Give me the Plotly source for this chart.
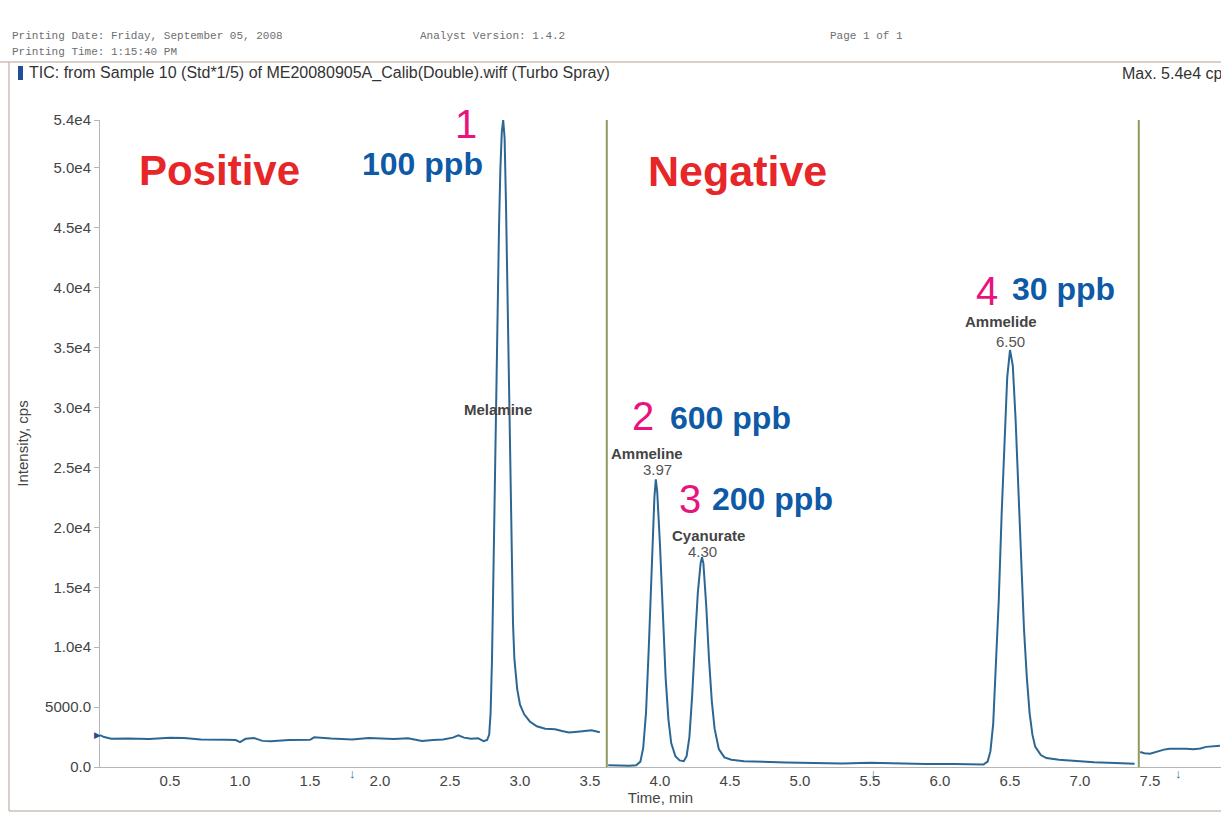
import plotly.graph_objects as go

# ---------------- data ----------------
pos1_time = [0.00, 0.03, 0.08, 0.20, 0.35, 0.50, 0.60, 0.72, 0.90, 0.97, 1.00, 1.04, 1.10, 1.16, 1.22,
             1.35, 1.50, 1.53, 1.65, 1.80, 1.92, 2.00, 2.10, 2.20, 2.30, 2.38, 2.45, 2.52, 2.56, 2.60,
             2.65, 2.70, 2.74, 2.765, 2.78, 2.79, 2.80, 2.81, 2.82, 2.83, 2.84, 2.85, 2.86, 2.87, 2.88,
             2.89, 2.90, 2.91, 2.92, 2.93, 2.94, 2.95, 2.96, 2.98, 3.00, 3.03, 3.07, 3.12, 3.18, 3.25,
             3.30, 3.35, 3.43, 3.51, 3.57]
pos1_int = [2650, 2500, 2350, 2380, 2330, 2450, 2430, 2300, 2280, 2250, 2080, 2350, 2420, 2180, 2150,
            2260, 2270, 2480, 2380, 2300, 2420, 2380, 2330, 2400, 2180, 2250, 2300, 2450, 2650, 2450,
            2350, 2400, 2150, 2250, 2700, 4500, 9000, 16000, 24000, 32000, 39000, 45000, 50000, 53000, 54000,
            52500, 47000, 40000, 32000, 24000, 17000, 12000, 9000, 6500, 5200, 4400, 3800, 3400, 3200, 3150,
            3000, 2880, 2970, 3060, 2900]

neg_time = [3.63, 3.70, 3.78, 3.83, 3.86, 3.88, 3.90, 3.92, 3.94, 3.96, 3.97, 3.98, 4.00, 4.02, 4.04,
            4.06, 4.08, 4.11, 4.14, 4.17, 4.19, 4.21, 4.23, 4.25, 4.27, 4.29, 4.30, 4.31, 4.33, 4.35,
            4.37, 4.39, 4.42, 4.46, 4.51, 4.60, 4.71, 4.90, 5.10, 5.30, 5.50, 5.70, 5.90, 6.10, 6.25,
            6.31, 6.34, 6.36, 6.38, 6.40, 6.42, 6.44, 6.46, 6.48, 6.50, 6.52, 6.54, 6.56, 6.58, 6.60,
            6.62, 6.64, 6.66, 6.68, 6.72, 6.76, 6.85, 6.96, 7.10, 7.25, 7.39]
neg_int = [150, 120, 110, 150, 450, 1600, 4500, 10000, 17000, 22500, 24000, 23000, 18500, 12500, 7500,
           4000, 2000, 900, 550, 480, 900, 2500, 6000, 10500, 14500, 17000, 17500, 17000, 13500, 9000,
           5500, 3200, 1500, 800, 600, 480, 430, 380, 330, 300, 350, 280, 260, 250, 220,
           200, 450, 1300, 3600, 8200, 14000, 21000, 27500, 32500, 34800, 33500, 29000, 23000, 17000, 11500,
           7500, 4500, 2700, 1700, 1000, 750, 600, 500, 400, 330, 280]

pos2_time = [7.43, 7.46, 7.50, 7.55, 7.60, 7.64, 7.70, 7.76, 7.81, 7.86, 7.90, 7.95, 8.00]
pos2_int = [1250, 1150, 1100, 1280, 1450, 1530, 1550, 1520, 1480, 1550, 1680, 1750, 1770]

divider_times = [3.62, 7.42]

y_tick_vals = [0, 5000, 10000, 15000, 20000, 25000, 30000, 35000, 40000, 45000, 50000, 54000]
y_tick_text = ["0.0", "5000.0", "1.0e4", "1.5e4", "2.0e4", "2.5e4", "3.0e4", "3.5e4", "4.0e4",
               "4.5e4", "5.0e4", "5.4e4"]
x_tick_vals = [0.5, 1.0, 1.5, 2.0, 2.5, 3.0, 3.5, 4.0, 4.5, 5.0, 5.5, 6.0, 6.5, 7.0, 7.5]
x_tick_text = ["0.5", "1.0", "1.5", "2.0", "2.5", "3.0", "3.5", "4.0", "4.5", "5.0", "5.5", "6.0",
               "6.5", "7.0", "7.5"]

peak_names = ["Melamine", "Ammeline", "Cyanurate", "Ammelide"]
peak_rt = ["2.88", "3.97", "4.30", "6.50"]
peak_num = ["1", "2", "3", "4"]
peak_conc = ["100 ppb", "600 ppb", "200 ppb", "30 ppb"]
mode_labels = ["Positive", "Negative"]

# ---------------- figure ----------------
W, H = 1221, 829
ML, MR, MT, MB = 100, 0, 120, 62
PW, PH = W - ML - MR, H - MT - MB


def px(xp):
    return (xp - ML) / PW


def py(yp):
    return (H - MB - yp) / PH


LINE = "#2c6794"
fig = go.Figure()
for tx, iy in [(pos1_time, pos1_int), (neg_time, neg_int), (pos2_time, pos2_int)]:
    fig.add_trace(go.Scatter(x=tx, y=iy, mode="lines", line=dict(color=LINE, width=2),
                             showlegend=False, hoverinfo="skip"))

shapes = []
for t in divider_times:
    shapes.append(dict(type="line", xref="x", yref="y", x0=t, x1=t, y0=0, y1=54300,
                       line=dict(color="#8f9a5c", width=2)))
# page frame and header rule
shapes.append(dict(type="line", xref="paper", yref="paper", x0=px(0), x1=px(W), y0=py(62), y1=py(62),
                   line=dict(color="#cdbfb8", width=1.5)))
shapes.append(dict(type="line", xref="paper", yref="paper", x0=px(9), x1=px(9), y0=py(62), y1=py(811),
                   line=dict(color="#cdbfb8", width=1.5)))
shapes.append(dict(type="line", xref="paper", yref="paper", x0=px(9), x1=px(W), y0=py(811), y1=py(811),
                   line=dict(color="#cdbfb8", width=1.5)))
# small blue tab before title
shapes.append(dict(type="rect", xref="paper", yref="paper", x0=px(18), x1=px(23), y0=py(80), y1=py(66),
                   fillcolor="#1f4f9a", line=dict(width=0)))

ann = []


def add_px(text, x, y, size, color, family="Liberation Sans, Arial", bold=False, xanchor="center",
           yanchor="middle"):
    t = f"<b>{text}</b>" if bold else text
    ann.append(dict(text=t, x=px(x), y=py(y), xref="paper", yref="paper", showarrow=False,
                    xanchor=xanchor, yanchor=yanchor, font=dict(size=size, color=color, family=family)))


def add_d(text, x, y, size, color, bold=False, xanchor="center", yanchor="middle"):
    t = f"<b>{text}</b>" if bold else text
    ann.append(dict(text=t, x=x, y=y, xref="x", yref="y", showarrow=False,
                    xanchor=xanchor, yanchor=yanchor,
                    font=dict(size=size, color=color, family="Liberation Sans, Arial")))


MONO = "Liberation Mono, Courier New, monospace"
add_px("Printing Date: Friday, September 05, 2008", 10, 36, 11, "#6e6e6e", MONO, xanchor="left")
add_px("Analyst Version: 1.4.2", 418, 36, 11, "#6e6e6e", MONO, xanchor="left")
add_px("Page 1 of 1", 828, 36, 11, "#6e6e6e", MONO, xanchor="left")
add_px("Printing Time: 1:15:40 PM", 10, 52, 11, "#6e6e6e", MONO, xanchor="left")
add_px("TIC: from Sample 10 (Std*1/5) of ME20080905A_Calib(Double).wiff (Turbo Spray)", 27, 73, 16,
       "#333333", xanchor="left")
add_px("Max. 5.4e4 cps.", 1120, 73, 16, "#333333", xanchor="left")

RED, BLUE, MAG, GREY = "#e62629", "#0e5aa6", "#e8137f", "#444444"
# mode labels
add_d(mode_labels[0], 0.857, 49750, 42, RED, bold=True)
add_d(mode_labels[1], 4.55, 49750, 43, RED, bold=True)

# peak annotations
num_pos = [(2.614, 53700), (3.879, 29330), (4.214, 22330), (6.336, 39750)]
conc_pos = [(2.30, 50330), (4.50, 29170), (4.807, 22330), (6.879, 39920)]
name_pos = [(2.843, 29830), (3.907, 26170), (4.343, 19330), (6.436, 37170)]
rt_pos = [(2.88, 55250), (3.979, 24830), (4.307, 18000), (6.50, 35500)]
for i in range(4):
    add_d(peak_num[i], num_pos[i][0], num_pos[i][1], 40, MAG)
    add_d(peak_conc[i], conc_pos[i][0], conc_pos[i][1], 32, BLUE, bold=True)
    add_d(peak_names[i], name_pos[i][0], name_pos[i][1], 15, GREY, bold=True)
    add_d(peak_rt[i], rt_pos[i][0], rt_pos[i][1], 15, "#555555")

# small marker arrows near axis
for xa in [352, 873, 1178]:
    add_px("↓", xa, 773, 13, "#2a7386", bold=True)
add_px("▶", 97, 735, 9, "#23508a")

fig.update_layout(
    width=W, height=H,
    margin=dict(l=ML, r=MR, t=MT, b=MB),
    paper_bgcolor="white", plot_bgcolor="white",
    shapes=shapes, annotations=ann,
    xaxis=dict(range=[0, PW / 140.0], tickvals=x_tick_vals, ticktext=x_tick_text, showgrid=False,
               zeroline=False, showline=True, linecolor="#b5b5b5", linewidth=1, ticks="",
               tickfont=dict(size=15, color="#444", family="Liberation Sans, Arial"),
               title=dict(text="Time, min", font=dict(size=15, color="#444", family="Liberation Sans, Arial"),
                          standoff=2)),
    yaxis=dict(range=[0, 54000 * PH / 647.0], tickvals=y_tick_vals, ticktext=y_tick_text, showgrid=False,
               zeroline=False, showline=True, linecolor="#b5b5b5", linewidth=1, ticks="outside",
               ticklen=5, tickcolor="#b5b5b5",
               tickfont=dict(size=15, color="#444", family="Liberation Sans, Arial"),
               title=dict(text="Intensity, cps", font=dict(size=15, color="#444", family="Liberation Sans, Arial"),
                          standoff=12)),
)

fig.write_html("out.html", config={"displayModeBar": False},
               post_script="document.body.style.margin='0';")
